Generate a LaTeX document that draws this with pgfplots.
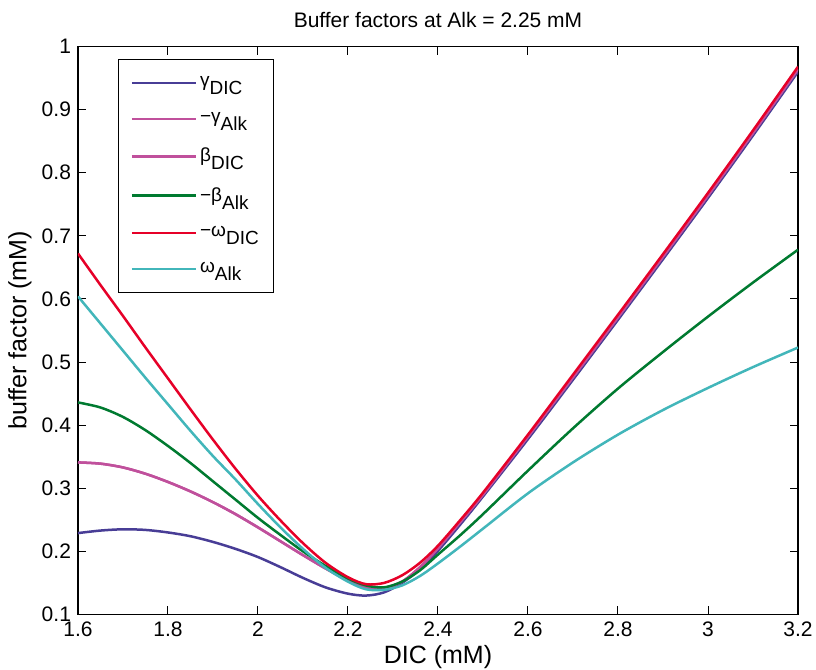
\documentclass[border=0pt]{standalone}
\usepackage{fontspec}
\setmainfont{Liberation Sans}
\usepackage{pgfplots}
\usepackage{pgfplotstable}
\pgfplotsset{compat=1.18}

\definecolor{cgam}{RGB}{72,61,150}
\definecolor{cmag}{RGB}{192,80,156}
\definecolor{cgrn}{RGB}{0,122,48}
\definecolor{cred}{RGB}{230,0,40}
\definecolor{ccya}{RGB}{66,182,186}

% buffer factors, x = DIC (mM)
\pgfplotstableread{
x    gdic  galk  bdic  balk  wdic  walk
1.60 0.229 0.341 0.341 0.436 0.672 0.604
1.65 0.233 0.339 0.339 0.428 0.622 0.561
1.70 0.235 0.333 0.333 0.413 0.573 0.518
1.75 0.234 0.323 0.323 0.392 0.523 0.475
1.80 0.230 0.310 0.310 0.367 0.474 0.433
1.85 0.224 0.295 0.295 0.340 0.425 0.391
1.90 0.215 0.278 0.278 0.311 0.377 0.351
1.95 0.204 0.259 0.259 0.282 0.331 0.314
2.00 0.191 0.238 0.238 0.253 0.288 0.275
2.05 0.175 0.216 0.216 0.226 0.249 0.238
2.10 0.158 0.194 0.194 0.200 0.213 0.204
2.15 0.143 0.173 0.173 0.177 0.182 0.174
2.20 0.133 0.154 0.154 0.157 0.159 0.152
2.24 0.130 0.143 0.143 0.146 0.148 0.140
2.28 0.135 0.142 0.142 0.143 0.150 0.139
2.32 0.150 0.152 0.152 0.152 0.162 0.146
2.36 0.172 0.175 0.175 0.170 0.182 0.161
2.40 0.201 0.205 0.205 0.195 0.209 0.181
2.45 0.243 0.247 0.247 0.226 0.250 0.208
2.50 0.287 0.290 0.290 0.259 0.293 0.236
2.60 0.378 0.382 0.382 0.328 0.385 0.292
2.70 0.472 0.476 0.476 0.395 0.480 0.341
2.80 0.567 0.571 0.571 0.458 0.575 0.385
2.90 0.663 0.667 0.667 0.516 0.671 0.424
3.00 0.760 0.764 0.764 0.572 0.768 0.459
3.10 0.859 0.863 0.863 0.626 0.867 0.492
3.20 0.960 0.964 0.964 0.678 0.968 0.523
}\buf

\newcommand{\lo}[1]{\raisebox{-4pt}{#1}}
\newcommand{\tickfont}{\fontsize{10.5}{12}\selectfont}

\begin{document}
\begin{tikzpicture}
\begin{axis}[
  scale only axis, width=360pt, height=284pt,
  xmin=1.6, xmax=3.2, ymin=0.1, ymax=1,
  xtick={1.6,1.8,2,2.2,2.4,2.6,2.8,3,3.2},
  ytick={0.1,0.2,0.3,0.4,0.5,0.6,0.7,0.8,0.9,1},
  /pgf/number format/fixed,
  /pgf/number format/assume math mode=true,
  xticklabel style={font=\tickfont},
  yticklabel style={font=\tickfont},
  tick align=inside, major tick length=4pt,
  tick style={black, line width=0.5pt},
  axis line style={line width=0.6pt},
  title={Buffer factors at Alk = 2.25 mM},
  title style={at={(rel axis cs:0.5,1.0467)}, anchor=center, yshift=-6pt,
    font=\fontsize{10.5}{12}\selectfont},
  xlabel={DIC (mM)},
  xlabel style={at={(rel axis cs:0.5,-0.0748)}, anchor=center,
    font=\fontsize{12.5}{15}\selectfont},
  ylabel={buffer factor (mM)},
  ylabel style={at={(rel axis cs:-0.0806,0.5)}, anchor=center,
    font=\fontsize{12.5}{15}\selectfont},
  legend style={at={(0.0556,0.978)}, anchor=north west, draw=black,
    line width=0.6pt, inner xsep=6pt, inner ysep=7pt, row sep=8.3pt,
    nodes={inner sep=1.5pt}, font=\fontsize{9.5}{11}\selectfont},
  legend cell align=left,
  legend image code/.code={\draw[#1, line width=1.25pt] (0pt,0pt) -- (32pt,0pt);},
  every axis plot/.append style={line width=1.25pt, smooth},
]
\addplot[cgam] table[x=x, y=gdic] {\buf};
\addlegendentry{γ\lo{DIC}}
\addplot[cmag] table[x=x, y=galk] {\buf};
\addlegendentry{−γ\lo{Alk}}
\addplot[cmag] table[x=x, y=bdic] {\buf};
\addlegendentry{β\lo{DIC}}
\addplot[cgrn] table[x=x, y=balk] {\buf};
\addlegendentry{−β\lo{Alk}}
\addplot[cred] table[x=x, y=wdic] {\buf};
\addlegendentry{−ω\lo{DIC}}
\addplot[ccya] table[x=x, y=walk] {\buf};
\addlegendentry{ω\lo{Alk}}
\coordinate (sw) at (rel axis cs:0,0);
\coordinate (ne) at (rel axis cs:1,1);
\end{axis}
\pgfresetboundingbox
\path[use as bounding box] ([shift={(-39pt,-27.75pt)}]sw) rectangle ([shift={(9pt,23.25pt)}]ne);
\end{tikzpicture}
\end{document}
